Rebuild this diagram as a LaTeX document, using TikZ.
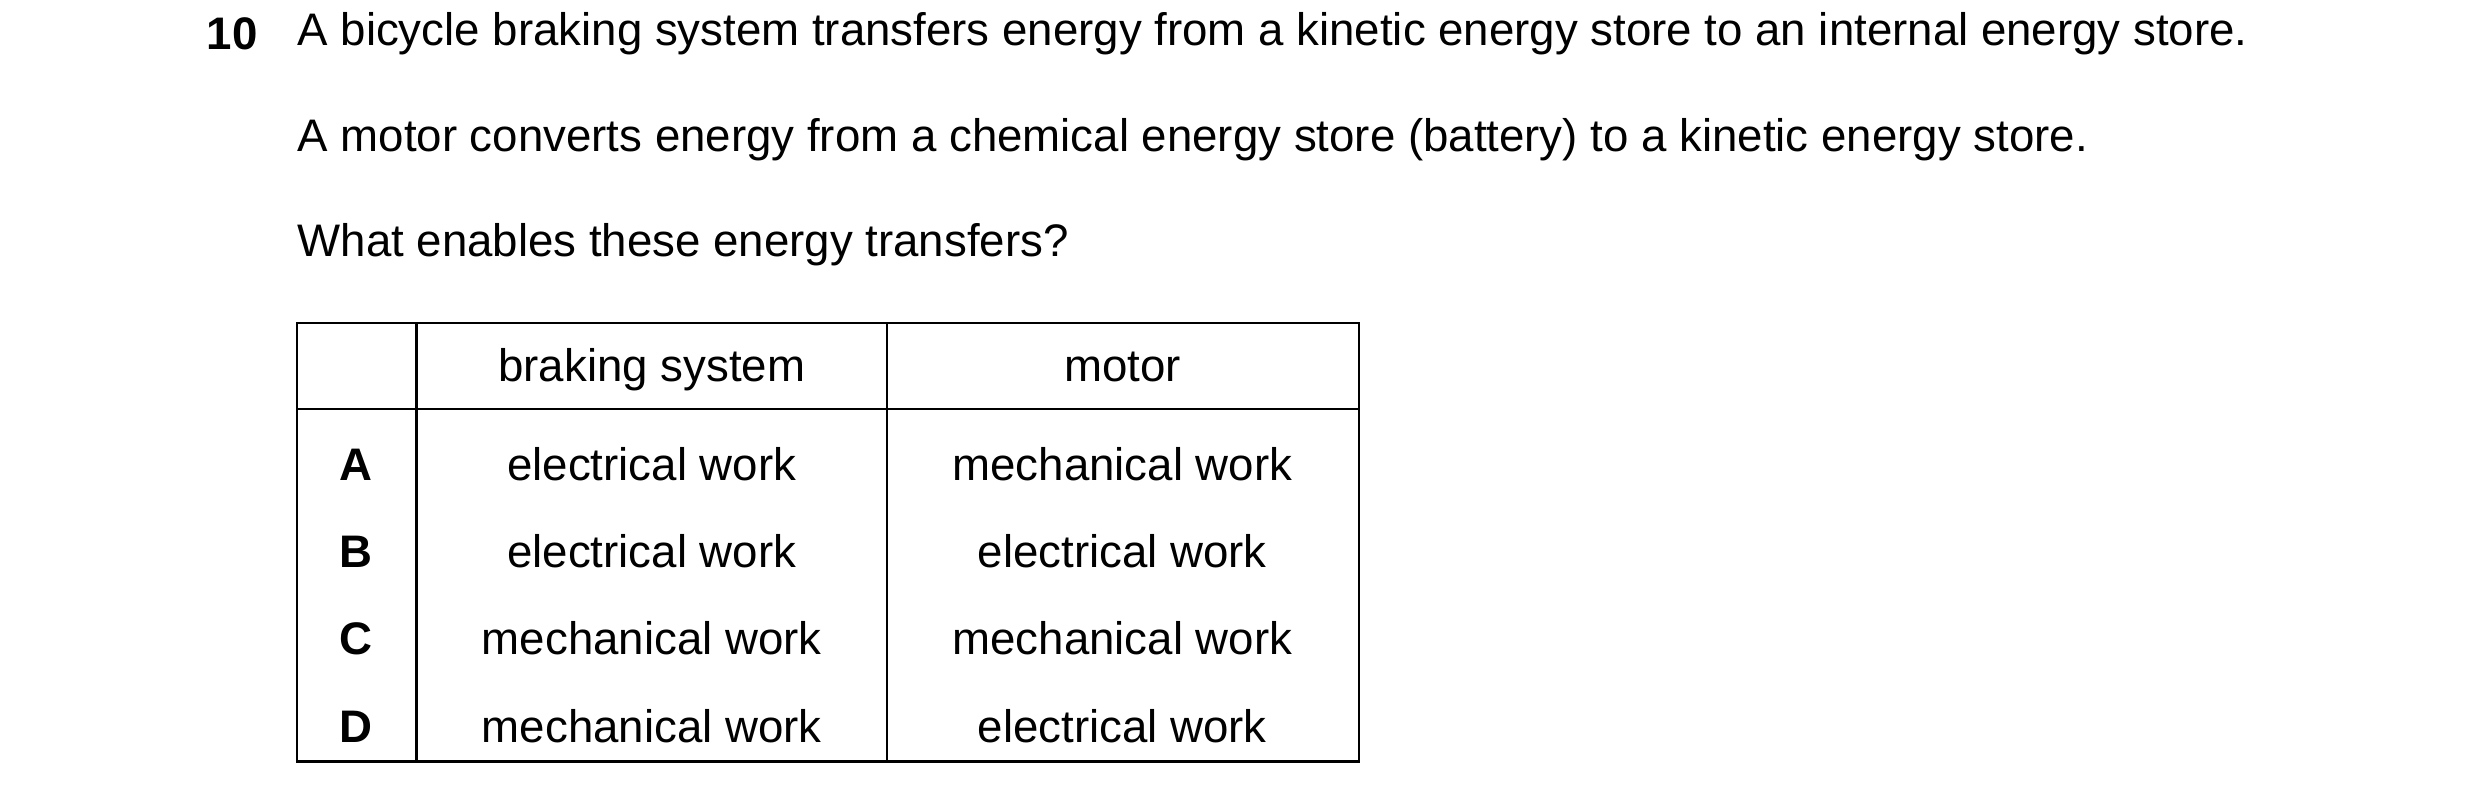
\documentclass[tikz,border=0pt]{standalone}
\usepackage{fontspec}
\setmainfont{Liberation Sans}
\begin{document}
\begin{tikzpicture}[x=1pt,y=-1pt,
  txt/.style={anchor=west,inner sep=0pt,font=\fontsize{28.7}{32}\selectfont},
  cell/.style={inner sep=0pt,font=\fontsize{28.7}{32}\selectfont},
  lbl/.style={inner sep=0pt,font=\fontsize{28.7}{32}\selectfont\bfseries}]
\useasboundingbox (0,0) rectangle (1560,502);
\node[txt,font=\fontsize{28.7}{32}\selectfont\bfseries] (num) at (130,21) {10};
\node[txt] (l1) at (187,21) {A bicycle braking system transfers energy from a kinetic energy store to an internal energy store.};
\node[txt] (l2) at (187,88) {A motor converts energy from a chemical energy store (battery) to a kinetic energy store.};
\node[txt] (l3) at (187,154) {What enables these energy transfers?};
\draw[line width=1.3pt] (187,203) rectangle (855,479);
\draw[line width=1.3pt] (187,257) -- (855,257);
\draw[line width=1.3pt] (262,203) -- (262,479);
\draw[line width=1.3pt] (558,203) -- (558,479);
\node[cell,anchor=base] (h1) at (410,240) {braking system};
\node[cell,anchor=base] (h2) at (706,240) {motor};
\foreach \y/\l/\a/\b in {302/A/electrical work/mechanical work,357/B/electrical work/electrical work,412/C/mechanical work/mechanical work,467/D/mechanical work/electrical work}{
  \node[lbl,anchor=base] at (224,\y) {\l};
  \node[cell,anchor=base] at (410,\y) {\a};
  \node[cell,anchor=base] at (706,\y) {\b};
}
\end{tikzpicture}
\end{document}
